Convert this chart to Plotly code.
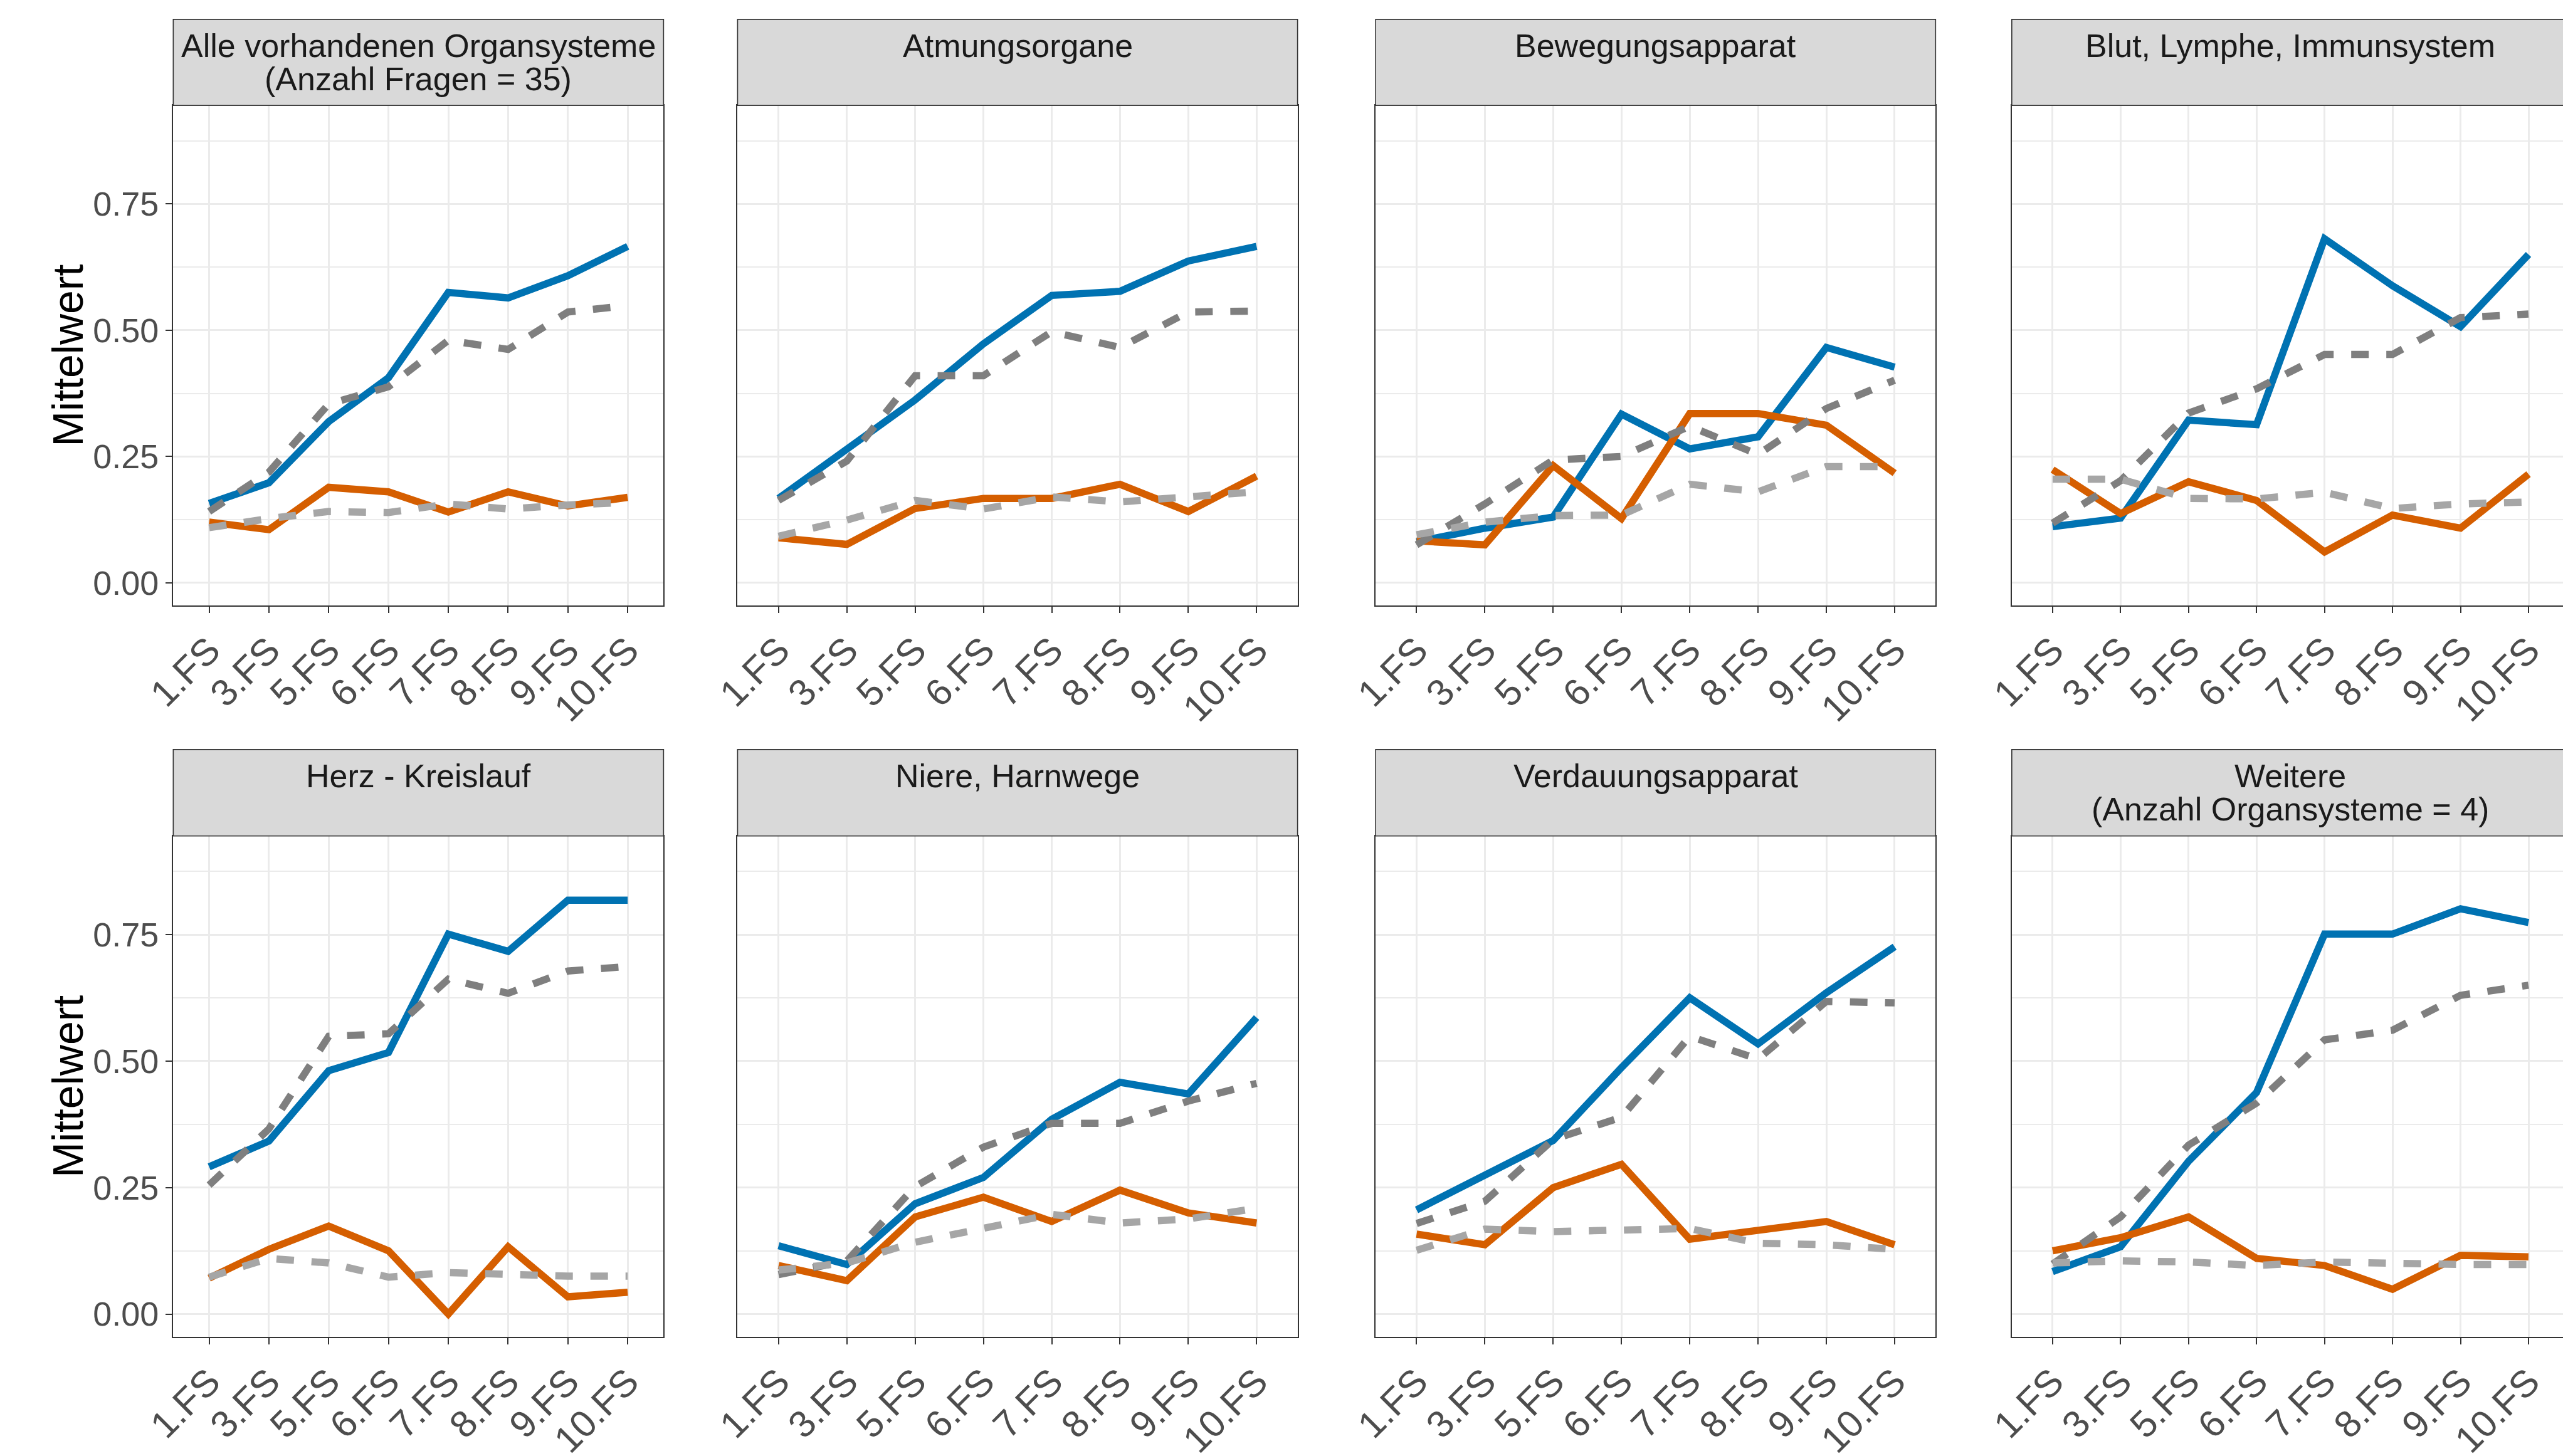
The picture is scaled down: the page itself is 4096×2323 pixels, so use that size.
import plotly.graph_objects as go

# ---------------- data ----------------
categories = ["1.FS", "3.FS", "5.FS", "6.FS", "7.FS", "8.FS", "9.FS", "10.FS"]

panel_titles = [
    ["Alle vorhandenen Organsysteme", "(Anzahl Fragen = 35)"],
    ["Atmungsorgane"],
    ["Bewegungsapparat"],
    ["Blut, Lymphe, Immunsystem"],
    ["Herz - Kreislauf"],
    ["Niere, Harnwege"],
    ["Verdauungsapparat"],
    ["Weitere", "(Anzahl Organsysteme = 4)"],
]

y_tick_vals = [0.0, 0.25, 0.50, 0.75]
y_tick_text = ["0.00", "0.25", "0.50", "0.75"]
y_minor_vals = [0.125, 0.375, 0.625, 0.875]
y_title = "Mittelwert"

alle_blue = [0.157, 0.198, 0.319, 0.406, 0.575, 0.564, 0.608, 0.666]
alle_orange = [0.120, 0.105, 0.189, 0.180, 0.140, 0.180, 0.152, 0.169]
alle_dark = [0.141, 0.219, 0.354, 0.388, 0.480, 0.462, 0.536, 0.549]
alle_light = [0.109, 0.127, 0.141, 0.139, 0.156, 0.146, 0.154, 0.159]

atm_blue = [0.167, 0.265, 0.362, 0.473, 0.569, 0.577, 0.637, 0.666]
atm_orange = [0.089, 0.076, 0.147, 0.167, 0.167, 0.195, 0.141, 0.211]
atm_dark = [0.163, 0.241, 0.410, 0.410, 0.497, 0.466, 0.536, 0.538]
atm_light = [0.092, 0.124, 0.163, 0.146, 0.170, 0.160, 0.170, 0.180]

bew_blue = [0.081, 0.108, 0.130, 0.334, 0.265, 0.289, 0.466, 0.427]
bew_orange = [0.083, 0.075, 0.232, 0.127, 0.335, 0.335, 0.312, 0.217]
bew_dark = [0.075, 0.156, 0.243, 0.250, 0.310, 0.254, 0.345, 0.401]
bew_light = [0.095, 0.120, 0.133, 0.134, 0.195, 0.180, 0.230, 0.230]

blut_blue = [0.111, 0.128, 0.322, 0.313, 0.681, 0.588, 0.507, 0.650]
blut_orange = [0.224, 0.137, 0.200, 0.163, 0.061, 0.134, 0.108, 0.215]
blut_dark = [0.118, 0.202, 0.336, 0.384, 0.452, 0.452, 0.525, 0.532]
blut_light = [0.205, 0.205, 0.167, 0.166, 0.179, 0.147, 0.156, 0.160]

herz_blue = [0.291, 0.342, 0.481, 0.517, 0.751, 0.717, 0.818, 0.818]
herz_orange = [0.071, 0.128, 0.174, 0.125, 0.000, 0.133, 0.034, 0.043]
herz_dark = [0.255, 0.366, 0.549, 0.554, 0.662, 0.634, 0.678, 0.687]
herz_light = [0.073, 0.110, 0.101, 0.073, 0.082, 0.078, 0.075, 0.075]

niere_blue = [0.135, 0.098, 0.218, 0.270, 0.385, 0.458, 0.435, 0.586]
niere_orange = [0.096, 0.066, 0.192, 0.231, 0.183, 0.245, 0.200, 0.180]
niere_dark = [0.078, 0.105, 0.252, 0.330, 0.377, 0.377, 0.421, 0.456]
niere_light = [0.087, 0.101, 0.142, 0.169, 0.197, 0.180, 0.188, 0.209]

verd_blue = [0.206, 0.275, 0.343, 0.487, 0.625, 0.534, 0.635, 0.726]
verd_orange = [0.158, 0.137, 0.250, 0.296, 0.148, 0.167, 0.183, 0.137]
verd_dark = [0.179, 0.223, 0.345, 0.389, 0.549, 0.504, 0.618, 0.615]
verd_light = [0.126, 0.168, 0.163, 0.165, 0.169, 0.140, 0.137, 0.128]

weit_blue = [0.084, 0.133, 0.302, 0.438, 0.751, 0.751, 0.801, 0.774]
weit_orange = [0.125, 0.151, 0.192, 0.110, 0.096, 0.049, 0.116, 0.113]
weit_dark = [0.099, 0.192, 0.334, 0.417, 0.542, 0.561, 0.630, 0.650]
weit_light = [0.101, 0.105, 0.103, 0.096, 0.103, 0.099, 0.098, 0.098]

panel_series = [
    (alle_blue, alle_orange, alle_dark, alle_light),
    (atm_blue, atm_orange, atm_dark, atm_light),
    (bew_blue, bew_orange, bew_dark, bew_light),
    (blut_blue, blut_orange, blut_dark, blut_light),
    (herz_blue, herz_orange, herz_dark, herz_light),
    (niere_blue, niere_orange, niere_dark, niere_light),
    (verd_blue, verd_orange, verd_dark, verd_light),
    (weit_blue, weit_orange, weit_dark, weit_light),
]

# ---------------- styles ----------------
W, H = 4096, 2323
FONT = "Liberation Sans, Arial, sans-serif"
series_styles = [
    dict(color="#0072B2", dash="solid"),
    dict(color="#D55E00", dash="solid"),
    dict(color="#7F7F7F", dash="28px,28px"),
    dict(color="#A6A6A6", dash="28px,28px"),
]
LINE_W = 11.5

# panel geometry in output pixels
col_px = [(222, 1013.5), (1133, 2037), (2163, 3067), (3190, 4090)]
row_px = [  # (strip_top, plot_top, plot_bottom)
    (23.5, 165, 986),
    (1222.6, 1364.5, 2187),
]

fig = go.Figure()
layout = dict(
    width=W, height=H, autosize=False,
    margin=dict(l=0, r=0, t=0, b=0),
    paper_bgcolor="white", plot_bgcolor="white",
    showlegend=False,
    shapes=[], annotations=[],
)

for i in range(8):
    r, c = divmod(i, 4)
    x0p, x1p = col_px[c]
    st, pt, pb = row_px[r]
    xs = "" if i == 0 else str(i + 1)
    xdom = [x0p / W, x1p / W]
    ydom = [1 - pb / H, 1 - pt / H]

    for k, (vals, sty) in enumerate(zip(panel_series[i], series_styles)):
        fig.add_trace(go.Scatter(
            x=categories, y=vals, mode="lines",
            line=dict(color=sty["color"], width=LINE_W, dash=sty["dash"]),
            xaxis="x" + xs, yaxis="y" + xs, hoverinfo="skip",
        ))

    layout["xaxis" + xs] = dict(
        domain=xdom, anchor="y" + xs, type="category",
        categoryorder="array", categoryarray=categories,
        range=[-0.6, 7.6],
        showgrid=True, gridcolor="#EBEBEB", gridwidth=3,
        showline=True, mirror=True, linecolor="#333333", linewidth=1.6,
        ticks="outside", ticklen=10.5, tickwidth=1.6, tickcolor="#333333",
        tickangle=-45,
        tickfont=dict(family=FONT, size=60, color="#4D4D4D"),
        zeroline=False, fixedrange=True,
    )
    first_col = (c == 0)
    layout["yaxis" + xs] = dict(
        domain=ydom, anchor="x" + xs,
        range=[-0.045, 0.945],
        tickmode="array", tickvals=y_tick_vals, ticktext=y_tick_text,
        showticklabels=first_col,
        ticks="outside" if first_col else "",
        ticklen=10.5, tickwidth=1.6, tickcolor="#333333",
        tickfont=dict(family=FONT, size=54, color="#4D4D4D"),
        showgrid=True, gridcolor="#EBEBEB", gridwidth=3,
        minor=dict(tickmode="array", tickvals=y_minor_vals, showgrid=True,
                   gridcolor="#EBEBEB", gridwidth=1.6, ticks=""),
        showline=True, mirror=True, linecolor="#333333", linewidth=1.6,
        zeroline=False, fixedrange=True,
    )

    # strip
    layout["shapes"].append(dict(
        type="rect", xref="paper", yref="paper",
        x0=xdom[0], x1=xdom[1], y0=1 - pt / H, y1=1 - st / H,
        fillcolor="#D9D9D9", line=dict(color="#333333", width=1.6), layer="above",
    ))
    line_y = [st + 43, st + 98]
    for j, txt in enumerate(panel_titles[i]):
        layout["annotations"].append(dict(
            text=txt, xref="paper", yref="paper",
            x=(xdom[0] + xdom[1]) / 2, y=1 - line_y[j] / H,
            xanchor="center", yanchor="middle", showarrow=False,
            font=dict(family=FONT, size=52, color="#1A1A1A"),
        ))

    if first_col:
        layout["annotations"].append(dict(
            text=y_title, xref="paper", yref="paper",
            x=52 / W, y=1 - ((pt + pb) / 2) / H,
            xanchor="center", yanchor="middle", showarrow=False, textangle=-90,
            font=dict(family=FONT, size=68, color="black"),
        ))

fig.update_layout(**layout)
fig.write_html("out.html")
